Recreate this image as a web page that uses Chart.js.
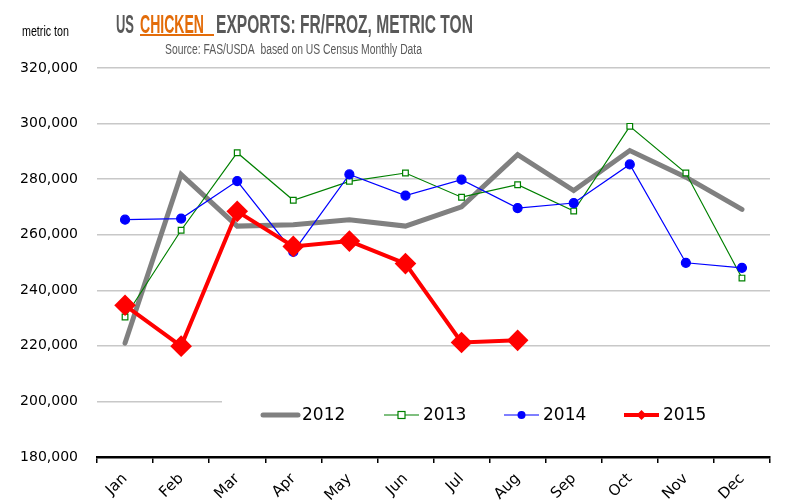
<!DOCTYPE html>
<html>
<head>
<meta charset="utf-8">
<script src="https://cdn.jsdelivr.net/npm/chart.js@4"></script>
<style>
  html, body { margin: 0; padding: 0; background: #fff; }
  #wrap { width: 790px; height: 504px; position: relative; }
</style>
</head>
<body>
<div id="wrap"><canvas id="chart" width="790" height="504"></canvas></div>
<script>
// data
const months = ['Jan', 'Feb', 'Mar', 'Apr', 'May', 'Jun', 'Jul', 'Aug', 'Sep', 'Oct', 'Nov', 'Dec'];
const years = ['2012', '2013', '2014', '2015'];
const tons2012 = [221000, 281700, 263100, 263600, 265400, 263100, 270000, 288800, 275900, 290300, 280700, 269100];
const tons2013 = [230400, 261600, 289500, 272400, 279200, 282200, 273500, 278000, 268500, 299000, 282200, 244400];
const tons2014 = [265400, 265800, 279300, 253800, 281700, 274100, 279800, 269600, 271400, 285300, 249900, 248100];
const tons2015 = [234600, 219900, 268400, 255800, 257700, 249600, 221200, 222000];
const yTicks = [180000, 200000, 220000, 240000, 260000, 280000, 300000, 320000];

const FONT = '"DejaVu Sans", sans-serif';
const NARROW = '"Liberation Sans", sans-serif';

function number_format(n) {
    return ('' + Math.round(n)).replace(/\B(?=(?:\d{3})+(?!\d))/g, ',');
}

// draws text squeezed/stretched to a given width
function fitText(ctx, text, x, y, width, font, color) {
    ctx.save();
    ctx.font = font;
    ctx.fillStyle = color;
    ctx.textBaseline = 'alphabetic';
    ctx.textAlign = 'left';
    const w = ctx.measureText(text).width;
    ctx.translate(x, y);
    ctx.scale(width / w, 1);
    ctx.fillText(text, 0, 0);
    ctx.restore();
}

const headerPlugin = {
    id: 'header',
    afterDraw(chart) {
        const ctx = chart.ctx;
        const tf = 'bold 26px ' + NARROW;
        fitText(ctx, 'US', 116, 33, 18, tf, '#595959');
        fitText(ctx, 'CHICKEN', 140, 33, 64, tf, '#E36C09');
        fitText(ctx, 'EXPORTS: FR/FROZ, METRIC TON', 216, 33, 257, tf, '#595959');
        ctx.save();
        ctx.fillStyle = '#E36C09';
        ctx.fillRect(140, 34, 74, 2);
        ctx.restore();
        fitText(ctx, 'Source: FAS/USDA  based on US Census Monthly Data', 165, 54, 257, '14px ' + NARROW, '#595959');
        fitText(ctx, 'metric ton', 22, 36, 47, '15px ' + NARROW, '#000');

        // legend box on a white background, covering the grid line
        ctx.save();
        ctx.fillStyle = '#fff';
        ctx.fillRect(222, 396, 548, 38);
        const ds = chart.data.datasets;
        const starts = [263, 384, 504, 624];
        ds.forEach((d, i) => {
            const x0 = starts[i], x1 = x0 + 35, y = 415;
            ctx.strokeStyle = d.borderColor;
            ctx.lineWidth = d.borderWidth;
            ctx.lineCap = i === 0 ? 'round' : 'butt';
            ctx.beginPath();
            ctx.moveTo(x0, y);
            ctx.lineTo(x1, y);
            ctx.stroke();
            const mx = (x0 + x1) / 2;
            if (d.pointStyle === 'rect') {
                ctx.fillStyle = '#fff';
                ctx.lineWidth = 1.2;
                ctx.fillRect(mx - 3.5, y - 3.5, 7, 7);
                ctx.strokeRect(mx - 3.5, y - 3.5, 7, 7);
            } else if (d.pointStyle === 'circle') {
                ctx.fillStyle = d.borderColor;
                ctx.beginPath();
                ctx.arc(mx, y, 4, 0, Math.PI * 2);
                ctx.fill();
            } else if (d.pointStyle === 'rectRot') {
                ctx.fillStyle = d.borderColor;
                ctx.beginPath();
                ctx.moveTo(mx, y - 5);
                ctx.lineTo(mx + 5, y);
                ctx.lineTo(mx, y + 5);
                ctx.lineTo(mx - 5, y);
                ctx.closePath();
                ctx.fill();
            }
            ctx.fillStyle = '#000';
            ctx.font = '17px ' + FONT;
            ctx.textBaseline = 'middle';
            ctx.fillText(d.label, x1 + 4, y + 1);
        });
        ctx.restore();
    }
};

new Chart(document.getElementById('chart'), {
    type: 'line',
    data: {
        labels: months,
        datasets: [
            {
                label: years[0], data: tons2012, order: 4,
                borderColor: '#808080', backgroundColor: '#808080', borderWidth: 5,
                pointRadius: 0, borderJoinStyle: 'miter', borderCapStyle: 'round'
            },
            {
                label: years[1], data: tons2013, order: 3,
                borderColor: '#008000', backgroundColor: '#ffffff', borderWidth: 1.2,
                pointStyle: 'rect', pointRadius: 4, pointBorderWidth: 1.2
            },
            {
                label: years[2], data: tons2014, order: 2,
                borderColor: '#0000FF', backgroundColor: '#0000FF', borderWidth: 1.2,
                pointStyle: 'circle', pointRadius: 4.5
            },
            {
                label: years[3], data: tons2015, order: 1,
                borderColor: '#FF0000', backgroundColor: '#FF0000', borderWidth: 4,
                pointStyle: 'rectRot', pointRadius: 8
            }
        ]
    },
    options: {
        responsive: false,
        animation: false,
        events: [],
        layout: { padding: { top: 68, right: 20, left: 0, bottom: 0 } },
        elements: { line: { tension: 0 } },
        plugins: {
            legend: { display: false },
            tooltip: { enabled: false }
        },
        scales: {
            x: {
                offset: true,
                grid: {
                    offset: true, drawOnChartArea: false, drawTicks: true,
                    tickLength: 6, color: '#000', lineWidth: 1.5
                },
                border: { display: true, color: '#000', width: 2.5 },
                ticks: {
                    color: '#000', font: { family: FONT, size: 15 },
                    maxRotation: 45, minRotation: 45, padding: 7
                },
                afterFit(scale) { scale.height = 47; }
            },
            y: {
                min: 180000, max: 320000,
                afterBuildTicks(scale) { scale.ticks = yTicks.map(v => ({ value: v })); },
                grid: { color: '#c8c8c8', lineWidth: 1.5, drawTicks: false },
                border: { display: false },
                ticks: {
                    color: '#000', font: { family: FONT, size: 14 }, padding: 19,
                    callback: (v) => number_format(v)
                },
                afterFit(scale) { scale.width = 97; }
            }
        }
    },
    plugins: [headerPlugin]
});
</script>
</body>
</html>
